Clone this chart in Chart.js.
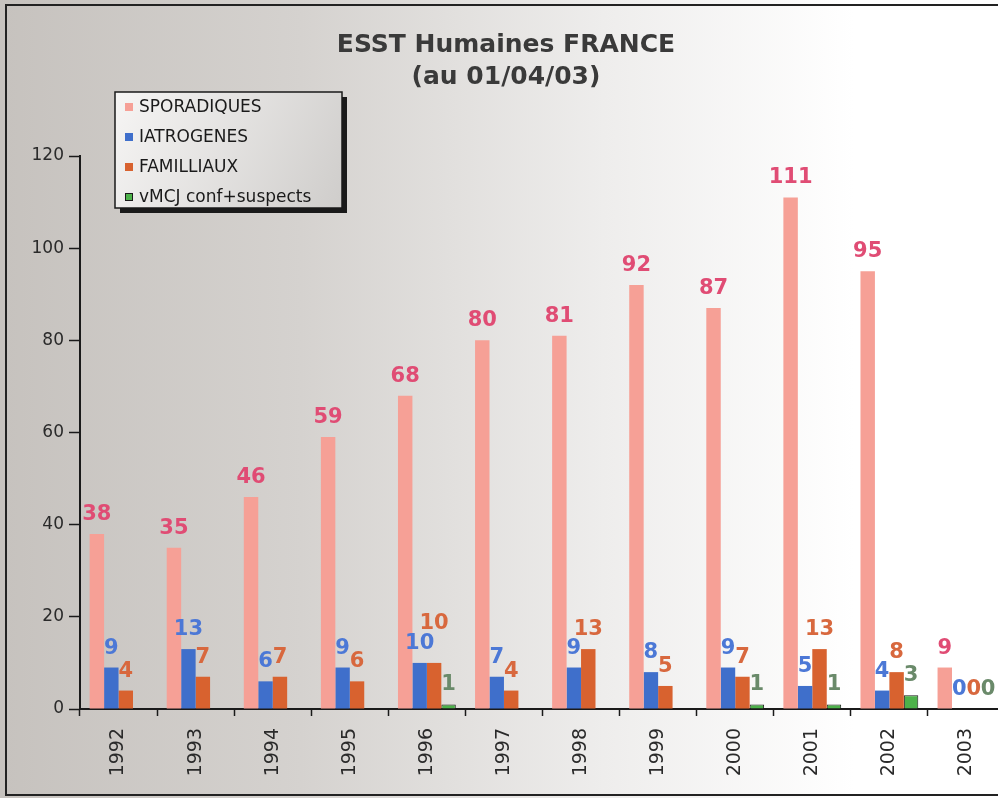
<!DOCTYPE html>
<html>
<head>
<meta charset="utf-8">
<script src="https://cdn.jsdelivr.net/npm/chart.js@4"></script>
<style>
  html, body { margin: 0; padding: 0; overflow: hidden; background: #fff; }
  #wrap { width: 1005px; height: 798px; }
</style>
</head>
<body>
<div id="wrap"><canvas id="esstChart"></canvas></div>
<script>
// Données
const annees = ['1992', '1993', '1994', '1995', '1996', '1997', '1998', '1999', '2000', '2001', '2002', '2003'];
const sporadiques = [38, 35, 46, 59, 68, 80, 81, 92, 87, 111, 95, 9];
const iatrogenes = [9, 13, 6, 9, 10, 7, 9, 8, 9, 5, 4, 0];
const familliaux = [4, 7, 7, 6, 10, 4, 13, 5, 7, 13, 8, 0];
const vmcj = [null, null, null, null, 1, null, null, null, 1, 1, 3, 0];
const yMax = 120;
const yStep = 20;

const FONT = "'DejaVu Sans', Verdana, sans-serif";

// Couleurs des étiquettes de valeurs
const labelColors = ['#e04c74', '#4c78d6', '#d8683e', '#6a8a6a'];

// Fond dégradé + cadre
const fondPlugin = {
    id: 'fond',
    beforeDraw(chart) {
        const ctx = chart.ctx;
        const w = chart.width, h = chart.height;
        ctx.save();
        let g = ctx.createLinearGradient(0, 0, w, 0);
        g.addColorStop(0, '#c6c2be');
        g.addColorStop(0.3, '#d5d2cf');
        g.addColorStop(0.6, '#eeedec');
        g.addColorStop(0.85, '#ffffff');
        ctx.fillStyle = g;
        ctx.fillRect(0, 0, w, h);
        ctx.strokeStyle = '#222';
        ctx.lineWidth = 2;
        ctx.beginPath();
        ctx.moveTo(w + 5, 5);
        ctx.lineTo(6, 5);
        ctx.lineTo(6, 795);
        ctx.lineTo(w + 5, 795);
        ctx.stroke();
        ctx.restore();
    }
};

// Titre, légende et valeurs au-dessus des barres
const decorPlugin = {
    id: 'decor',
    afterDatasetsDraw(chart) {
        const ctx = chart.ctx;
        ctx.save();
        ctx.font = 'bold 21px ' + FONT;
        ctx.textAlign = 'center';
        ctx.textBaseline = 'alphabetic';
        // dernière étiquette posée par catégorie, pour éviter les chevauchements
        const placed = {};
        chart.data.datasets.forEach((ds, i) => {
            const meta = chart.getDatasetMeta(i);
            meta.data.forEach((bar, j) => {
                const v = ds.data[j];
                if (v === null || v === undefined) return;
                const txt = String(v);
                const w = ctx.measureText(txt).width;
                let y = bar.y - 14;
                const prev = placed[j];
                if (prev) {
                    const overlapX = bar.x - w / 2 < prev.x + prev.w / 2 - 1;
                    const overlapY = Math.abs(y - prev.y) < 18;
                    if (overlapX && overlapY) y = prev.y - 20;
                }
                placed[j] = { x: bar.x, y: y, w: w };
                ctx.fillStyle = labelColors[i];
                ctx.fillText(txt, bar.x, y);
            });
        });
        ctx.restore();
    },
    afterDraw(chart) {
        const ctx = chart.ctx;
        ctx.save();
        // titre
        ctx.fillStyle = '#3a3a3a';
        ctx.font = 'bold 25px ' + FONT;
        ctx.textAlign = 'center';
        ctx.textBaseline = 'middle';
        ctx.fillText('ESST Humaines FRANCE', 506, 45);
        ctx.fillText('(au 01/04/03)', 506, 77);

        // légende
        const lx = 115, ly = 92, lw = 227, lh = 116;
        ctx.fillStyle = '#1a1a1a';
        ctx.fillRect(lx + 5, ly + 5, lw, lh);
        let g = ctx.createLinearGradient(lx, ly, lx + lw, ly + lh);
        g.addColorStop(0, '#f6f5f4');
        g.addColorStop(1, '#cfcdcb');
        ctx.fillStyle = g;
        ctx.fillRect(lx, ly, lw, lh);
        ctx.strokeStyle = '#1a1a1a';
        ctx.lineWidth = 1.5;
        ctx.strokeRect(lx, ly, lw, lh);

        ctx.font = '17px ' + FONT;
        ctx.textAlign = 'left';
        ctx.textBaseline = 'middle';
        chart.data.datasets.forEach((ds, i) => {
            const cy = 107 + i * 30;
            ctx.fillStyle = ds.backgroundColor;
            ctx.fillRect(125, cy - 4, 8, 8);
            if (ds.borderWidth) {
                ctx.strokeStyle = '#1a1a1a';
                ctx.lineWidth = 1;
                ctx.strokeRect(125.5, cy - 3.5, 7, 7);
            }
            ctx.fillStyle = '#1a1a1a';
            ctx.fillText(ds.label, 139, cy + 1);
        });
        ctx.restore();
    }
};

const ctx = document.getElementById('esstChart').getContext('2d');
const esstChart = new Chart(ctx, {
    type: 'bar',
    data: {
        labels: annees,
        datasets: [
            { label: 'SPORADIQUES', data: sporadiques, backgroundColor: '#f6a096', borderWidth: 0 },
            { label: 'IATROGENES', data: iatrogenes, backgroundColor: '#3f6fcb', borderWidth: 0 },
            { label: 'FAMILLIAUX', data: familliaux, backgroundColor: '#d8622f', borderWidth: 0 },
            { label: 'vMCJ conf+suspects', data: vmcj, backgroundColor: '#4db24a', borderColor: '#1a1a1a', borderWidth: 1 }
        ]
    },
    options: {
        responsive: true,
        maintainAspectRatio: false,
        animation: false,
        layout: { padding: { top: 156, left: 0, right: 0, bottom: 0 } },
        plugins: {
            legend: { display: false },
            title: { display: false },
            tooltip: { enabled: false }
        },
        datasets: {
            bar: { categoryPercentage: 0.75, barPercentage: 1.0 }
        },
        scales: {
            x: {
                offset: true,
                grid: {
                    display: true,
                    offset: true,
                    drawOnChartArea: false,
                    drawTicks: true,
                    tickLength: 7,
                    tickColor: '#1a1a1a',
                    tickWidth: 1.5
                },
                border: { display: true, color: '#1a1a1a', width: 2 },
                ticks: {
                    minRotation: 90,
                    maxRotation: 90,
                    padding: 12,
                    color: '#2a2a2a',
                    font: { family: FONT, size: 19 }
                },
                afterFit(scale) { scale.height = 89; }
            },
            y: {
                min: 0,
                max: yMax,
                grid: {
                    display: true,
                    drawOnChartArea: false,
                    drawTicks: true,
                    tickLength: 11,
                    tickColor: '#1a1a1a',
                    tickWidth: 1.5
                },
                border: { display: true, color: '#1a1a1a', width: 2 },
                ticks: {
                    stepSize: yStep,
                    padding: 5,
                    color: '#2a2a2a',
                    font: { family: FONT, size: 17 }
                },
                afterFit(scale) { scale.width = 80; }
            }
        }
    },
    plugins: [fondPlugin, decorPlugin]
});
</script>
</body>
</html>
